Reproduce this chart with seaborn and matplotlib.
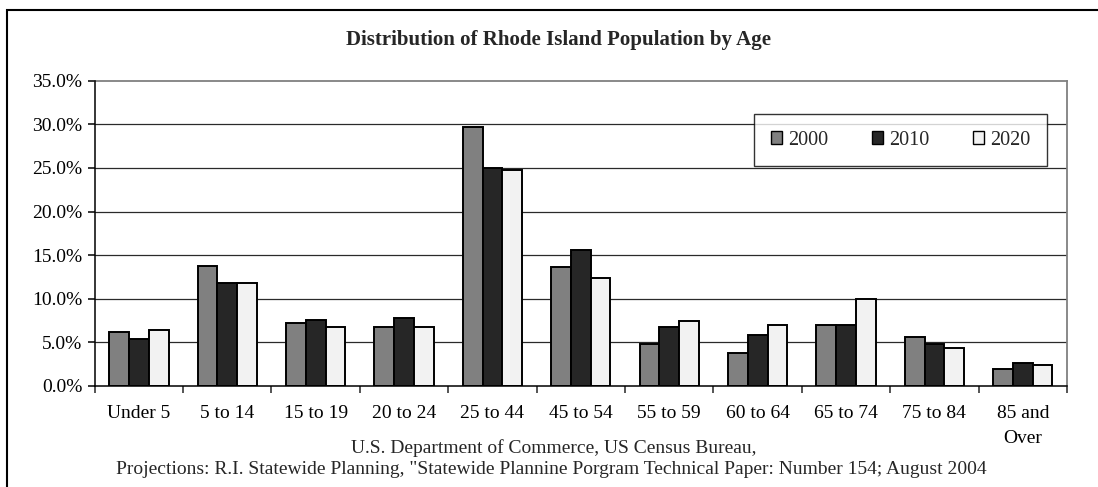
import matplotlib
matplotlib.use("Agg")
import matplotlib.pyplot as plt
import matplotlib.patches as mpatches
from matplotlib.ticker import FuncFormatter, FixedLocator
import seaborn as sns
import pandas as pd

age_groups = ["Under 5", "5 to 14", "15 to 19", "20 to 24", "25 to 44", "45 to 54",
              "55 to 59", "60 to 64", "65 to 74", "75 to 84", "85 and\nOver"]
years = ["2000", "2010", "2020"]
pct_2000 = [6.2, 13.8, 7.2, 6.8, 29.7, 13.6, 4.8, 3.8, 7.0, 5.6, 2.0]
pct_2010 = [5.4, 11.8, 7.6, 7.8, 25.0, 15.6, 6.8, 5.8, 7.0, 4.8, 2.6]
pct_2020 = [6.4, 11.8, 6.8, 6.8, 24.8, 12.4, 7.4, 7.0, 10.0, 4.4, 2.4]
bar_colors = ["#808080", "#262626", "#f2f2f2"]

rows = []
for year, vals in zip(years, [pct_2000, pct_2010, pct_2020]):
    for grp, v in zip(age_groups, vals):
        rows.append({"age": grp, "year": year, "pct": v})
df = pd.DataFrame(rows)

sns.set_style("white")
plt.rcParams['font.family'] = ['Liberation Serif', 'DejaVu Serif']

fig = plt.figure(figsize=(10.98, 4.87), dpi=100)
W, H = 1098, 487
ax = fig.add_axes([94.7 / W, 1 - 386 / H, (1067 - 94.7) / W, (386 - 80.7) / H])

sns.barplot(data=df, x="age", y="pct", hue="year", order=age_groups, hue_order=years,
            palette=bar_colors, width=0.67, edgecolor="black", linewidth=1.4,
            saturation=1, gap=0, ax=ax, zorder=3)

ax.set_ylim(0, 35)
ax.set_xlim(-0.5, len(age_groups) - 0.5)
ax.set_yticks([0, 5, 10, 15, 20, 25, 30, 35])
ax.yaxis.set_major_formatter(FuncFormatter(lambda v, p: f"{v:.1f}%"))
ax.set_xlabel("")
ax.set_ylabel("")

# gridlines
for yv in [5, 10, 15, 20, 25, 30]:
    ax.axhline(yv, color="#2a2a2a", linewidth=0.9, zorder=1)

# spines
for side in ["top", "right"]:
    ax.spines[side].set_color("#808080")
    ax.spines[side].set_linewidth(1.3)
for side in ["left", "bottom"]:
    ax.spines[side].set_color("black")
    ax.spines[side].set_linewidth(1.1)
    ax.spines[side].set_zorder(4)

# ticks: labels at centres, tick marks at category boundaries
ax.tick_params(axis="x", which="major", length=0, pad=14, labelsize=14, colors="black")
ax.xaxis.set_minor_locator(FixedLocator([i - 0.5 for i in range(len(age_groups) + 1)]))
ax.tick_params(axis="x", which="minor", length=5, width=1.1, direction="out", bottom=True)
ax.tick_params(axis="y", which="major", length=5, width=1.1, direction="out", left=True,
               labelsize=14, pad=4, colors="black")
for lbl in ax.get_xticklabels():
    lbl.set_linespacing(1.6)
    lbl.set_verticalalignment("top")

# legend
handles = [mpatches.Patch(facecolor=c, edgecolor="black", linewidth=1.0, label=y)
           for c, y in zip(bar_colors, years)]
ax.legend(handles=handles, loc="upper right", bbox_to_anchor=(1047 / W, 1 - 114 / H),
          bbox_transform=fig.transFigure, ncol=3, frameon=True, fancybox=False,
          edgecolor="black", fontsize=14.5, handlelength=0.57, handleheight=0.57,
          handletextpad=0.3, columnspacing=2.15, borderpad=0.82, borderaxespad=0)
ax.get_legend().get_frame().set_linewidth(1.0)

fig.text(558 / W, 1 - 40 / H, "Distribution of Rhode Island Population by Age",
         ha="center", va="center", fontsize=15, fontweight="bold")
fig.text(554 / W, 1 - 448 / H, "U.S. Department of Commerce, US Census Bureau,",
         ha="center", va="center", fontsize=14)
fig.text(551 / W, 1 - 470 / H,
         'Projections: R.I. Statewide Planning, "Statewide Plannine Porgram Technical Paper: Number 154; August 2004',
         ha="center", va="center", fontsize=14)

# outer chart-area border (only left and top edges are in view)
fig.patches.append(mpatches.Rectangle((7 / W, -0.1), 1.2, 1 - 10 / H + 0.1,
                                      transform=fig.transFigure, fill=False,
                                      edgecolor="black", linewidth=1.5))

fig.savefig("out.png", dpi=100)
